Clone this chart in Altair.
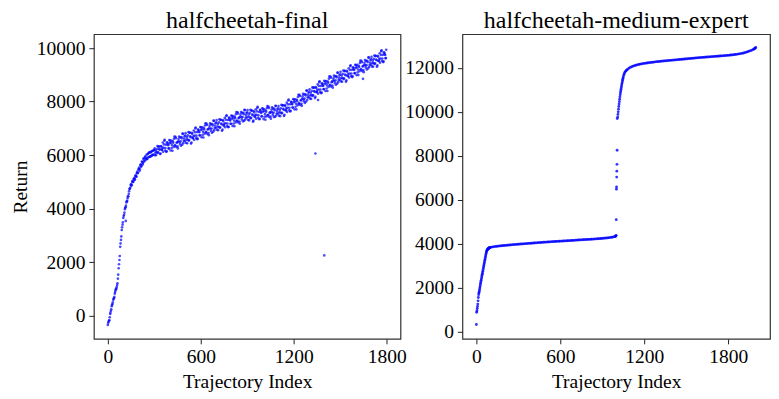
import altair as alt
import pandas as pd

final_step = 5
final_returns_a = [
    -350, -230, -170, 60, 180, 350, 430, 590, 660, 820,
    950, 1010, 1140, 1380, 1770, 2080, 2570, 2830, 3200, 3400,
    3650, 3770, 3980, 4050, 4230, 4280, 4460, 4550, 4730, 4790,
    4920, 4880, 5040, 5010, 5130, 5090, 5250, 5200, 5380, 5340,
    5490, 5410, 5620, 5560, 5760, 5650, 5850, 5760, 5920, 5830,
    6010, 5850, 6060, 5930, 6110, 5950, 6130, 5990, 6160, 6020,
    6200, 5990, 6170, 6105, 6335, 6100, 6325, 6205, 6055, 6325,
    6190, 6470, 6270, 6540, 6170, 6390, 6140, 6460, 6370, 6250,
    6440, 6170, 6540, 6370, 6510, 6300, 6690, 6370, 6630, 6460,
    6330, 6520, 6690, 6415, 6510, 6675, 6390, 6795, 6530, 6700,
    6730, 6460, 6670, 6575, 6860, 6560, 6830, 6670, 6470, 6795,
    6635, 6920, 6725, 7000, 6635, 6860, 6615, 6940, 6855, 6740,
    6935, 6665, 7035, 6865, 7005, 6795, 7185, 6865, 7125, 6955,
    6825, 7015, 7185, 6905, 6995, 7160, 6875, 7280, 7015, 7190,
    7220, 6950, 7160, 7060, 7340, 7040, 7310, 7150, 6950, 7270,
    7110, 7390, 7190, 7460, 7090, 7310, 7060, 7380, 7290, 7170,
    7360, 7090, 7460, 7290, 7430, 7220, 7610, 7290, 7550, 7380,
    7250, 7440, 7610, 7330, 7420, 7580, 7285, 7680, 7405, 7570,
    7595, 7320, 7525, 7420, 7695, 7390, 7655, 7490, 7285, 7600,
    7435, 7710, 7505, 7770, 7395, 7610, 7355, 7670, 7570, 7440,
    7625, 7345, 7710, 7530, 7665, 7445, 7830, 7500, 7755, 7575,
    7440, 7620, 7785, 7495, 7580, 7730, 7435, 7830, 7555, 7720,
    7745, 7475, 7685, 7590, 7875, 7580, 7855, 7700, 7505, 7830,
    7675, 7960, 7765, 8040, 7675, 7900, 7655, 7980, 7895, 7780,
    7975, 7710, 8085, 7920, 8065, 7860, 8255, 7940, 8205, 8040,
    7920, 8115, 8290, 8015, 8110, 8280, 8000, 8410, 8150, 8330,
    8370, 8110, 8330, 8240, 8530, 8240, 8520, 8370, 8180, 8510,
    8360, 8645, 8450, 8725, 8360, 8585, 8340, 8665, 8580, 8465,
    8660, 8395, 8770, 8605, 8750, 8545, 8940, 8625, 8890, 8725,
    8600, 8795, 8970, 8695, 8790, 8955, 8670, 9075, 8810, 8985,
    9020, 8755, 8970, 8875, 9160, 8865, 9140, 8985, 8790, 9115,
    8960, 9245, 9050, 9325, 8960, 9185, 8940, 9265, 9180, 9065,
    9260, 8990, 9370, 9200, 9340, 9135, 9530, 9210, 9470, 9310,
    9180, 9370, 9550, 9270, 9360, 9525, 9240, 9640, 9370, 9550,
    9580, 9315, 9530, 9435, 9720, 9425, 9700, 9545, 9350, 9675,
    9520, 9805, 9610, 9885, 9520, 9745, 9500, 9825, 9740, 9625,
]
# second set of readings at trajectory indices 2,7,12,...
final_returns_b = [
    -280, -190, -60, 110, 240, 400, 500, 630, 700, 880,
    990, 1070, 1210, 1530, 1920, 2230, 2700, 2960, 3300, 3490,
    3720, 3850, 4030, 4110, 4270, 4380, 4450, 4650, 4740, 4880,
    4860, 5000, 4990, 5110, 5080, 5210, 5190, 5330, 5320, 5460,
    5530, 5470, 5650, 5600, 5740, 5700, 5880, 5790, 5950, 5870,
    5870, 6040, 5920, 6090, 5940, 6100, 5970, 6150, 6010, 6180,
    6250, 6090, 6005, 6225, 6090, 6310, 6220, 6040, 6330, 6205,
    6260, 6120, 6400, 6570, 6260, 6120, 6480, 6400, 6250, 6560,
    6540, 6460, 6260, 6160, 6460, 6610, 6350, 6680, 6300, 6480,
    6250, 6600, 6490, 6665, 6350, 6625, 6800, 6445, 6620, 6530,
    6820, 6580, 6440, 6735, 6540, 6840, 6700, 6430, 6830, 6635,
    6705, 6570, 6855, 7030, 6725, 6590, 6955, 6880, 6735, 7050,
    7035, 6955, 6755, 6655, 6955, 7105, 6845, 7175, 6795, 6975,
    6745, 7095, 6985, 7155, 6835, 7110, 7285, 6930, 7105, 7020,
    7310, 7070, 6930, 7220, 7020, 7320, 7180, 6910, 7310, 7110,
    7180, 7040, 7320, 7490, 7180, 7040, 7400, 7320, 7170, 7480,
    7460, 7380, 7180, 7080, 7380, 7530, 7270, 7600, 7220, 7400,
    7170, 7520, 7410, 7580, 7260, 7530, 7695, 7330, 7495, 7400,
    7685, 7440, 7295, 7580, 7375, 7670, 7525, 7250, 7645, 7440,
    7505, 7360, 7635, 7800, 7485, 7340, 7695, 7610, 7450, 7750,
    7725, 7635, 7430, 7320, 7615, 7755, 7490, 7810, 7425, 7595,
    7360, 7700, 7585, 7745, 7420, 7680, 7845, 7480, 7645, 7550,
    7835, 7595, 7455, 7750, 7555, 7860, 7725, 7460, 7865, 7670,
    7745, 7610, 7895, 8070, 7765, 7630, 7995, 7920, 7775, 8090,
    8075, 8000, 7805, 7710, 8015, 8170, 7915, 8250, 7875, 8060,
    7840, 8195, 8090, 8265, 7950, 8230, 8410, 8060, 8240, 8160,
    8460, 8230, 8100, 8400, 8210, 8520, 8390, 8130, 8540, 8350,
    8430, 8295, 8580, 8755, 8450, 8315, 8680, 8605, 8460, 8775,
    8760, 8685, 8490, 8395, 8700, 8855, 8600, 8935, 8560, 8745,
    8520, 8875, 8770, 8945, 8630, 8905, 9080, 8725, 8900, 8815,
    9110, 8875, 8740, 9035, 8840, 9145, 9010, 8745, 9150, 8955,
    9030, 8895, 9180, 9355, 9050, 8915, 9280, 9205, 9060, 9375,
    9360, 9280, 9090, 8990, 9290, 9445, 9190, 9520, 9140, 9330,
    9100, 9450, 9350, 9520, 9200, 9475, 9650, 9290, 9460, 9380,
    9670, 9435, 9300, 9595, 9400, 9705, 9570, 9305, 9710, 9515,
    9590, 9455, 9740, 9915, 9610, 9475, 9840, 9765, 9620, 9935,
]
final_outlier_index = [116, 1340, 1357, 1397, 1647]
final_outlier_return = [3540, 6060, 8060, 2250, 8850]

# ---- halfcheetah-medium-expert ----
me_index = (
    list(range(0, 101, 2))
    + list(range(110, 991, 10))
    + [994, 997, 999]
    + [1000, 1001, 1002, 1003, 1004, 1005, 1006, 1007]
    + list(range(1010, 1051, 2))
    + [1053, 1056, 1060, 1065, 1070, 1075, 1080, 1090, 1100]
    + list(range(1110, 1991, 10))
    + [1985, 1994, 1997]
)
me_returns = (
    [320, 880, 950, 1050, 1150, 1250, 1400, 1550, 1680, 1760,
     1800, 1880, 1960, 2040, 2120, 2200, 2270, 2340, 2410, 2480,
     2550, 2610, 2680, 2750, 2820, 2890, 2960, 3030, 3100, 3170,
     3240, 3300, 3370, 3440, 3510, 3570, 3620, 3670, 3700, 3720,
     3740, 3755, 3770, 3780, 3790, 3800, 3808, 3815, 3822, 3828,
     3833]
    + [3845, 3855, 3865, 3875, 3883, 3890, 3897, 3904, 3910, 3916,
       3922, 3928, 3934, 3940, 3946, 3952, 3958, 3964, 3969, 3974,
       3979, 3984, 3989, 3994, 3999, 4004, 4009, 4014, 4019, 4024,
       4029, 4034, 4039, 4044, 4049, 4054, 4059, 4064, 4069, 4073,
       4077, 4081, 4085, 4089, 4093, 4097, 4101, 4105, 4109, 4113,
       4117, 4121, 4125, 4129, 4133, 4137, 4141, 4145, 4149, 4153,
       4157, 4161, 4165, 4169, 4173, 4177, 4181, 4185, 4189, 4193,
       4197, 4201, 4205, 4209, 4214, 4219, 4224, 4229, 4234, 4240,
       4246, 4252, 4259, 4266, 4274, 4283, 4293, 4305, 4320]
    + [4335, 4350, 4380]
    + [5090, 6480, 6580, 7030, 7300, 7610, 8250, 9690]
    + [9760, 9880, 10000, 10120, 10240, 10350, 10460, 10570, 10680, 10780,
       10870, 10950, 11030, 11110, 11190, 11260, 11330, 11400, 11460, 11520,
       11580]
    + [11660, 11720, 11780, 11830, 11870, 11900, 11930, 11980, 12020]
    + [12050, 12075, 12098, 12118, 12136, 12152, 12167, 12180, 12192, 12203,
       12213, 12222, 12231, 12240, 12248, 12256, 12264, 12272, 12279, 12286,
       12293, 12300, 12306, 12312, 12318, 12324, 12330, 12336, 12342, 12348,
       12354, 12360, 12366, 12372, 12378, 12384, 12390, 12396, 12402, 12408,
       12414, 12420, 12426, 12432, 12438, 12444, 12450, 12456, 12462, 12468,
       12473, 12478, 12483, 12488, 12493, 12498, 12503, 12508, 12513, 12518,
       12523, 12528, 12533, 12538, 12543, 12548, 12553, 12558, 12564, 12570,
       12576, 12583, 12590, 12598, 12606, 12615, 12625, 12636, 12648, 12662,
       12677, 12694, 12713, 12734, 12757, 12782, 12810, 12840, 12880]
    + [12860, 12900, 12930]
)

x_ticks = [0, 600, 1200, 1800]
final_y_ticks = [0, 2000, 4000, 6000, 8000, 10000]
me_y_ticks = [0, 2000, 4000, 6000, 8000, 10000, 12000]

n = len(final_returns_a)
final_df = pd.DataFrame({
    "index": list(range(0, n * final_step, final_step))
    + list(range(2, n * final_step + 2, final_step))
    + final_outlier_index,
    "ret": final_returns_a + final_returns_b + final_outlier_return,
})
me_df = pd.DataFrame({"index": me_index, "ret": me_returns})

FONT = "Liberation Serif"

left = alt.Chart(final_df, title="halfcheetah-final").mark_circle(
    size=7, color="#0000ff", opacity=0.7
).encode(
    x=alt.X("index:Q", scale=alt.Scale(domain=[-90, 1889], nice=False, zero=False),
            axis=alt.Axis(values=x_ticks, title="Trajectory Index", format="d")),
    y=alt.Y("ret:Q", scale=alt.Scale(domain=[-867, 10517], nice=False, zero=False),
            axis=alt.Axis(values=final_y_ticks, title="Return", format="d")),
).properties(width=307, height=305)

right = alt.Chart(me_df, title="halfcheetah-medium-expert").mark_circle(
    size=8, color="#0000ff", opacity=0.8
).encode(
    x=alt.X("index:Q", scale=alt.Scale(domain=[-100, 2099], nice=False, zero=False),
            axis=alt.Axis(values=x_ticks, title="Trajectory Index", format="d")),
    y=alt.Y("ret:Q", scale=alt.Scale(domain=[-330, 13530], nice=False, zero=False),
            axis=alt.Axis(values=me_y_ticks, title=None, format="d")),
).properties(width=308, height=305)

chart = alt.hconcat(left, right, spacing=62, bounds="flush").resolve_scale(
    x="independent", y="independent"
).properties(
    padding={"left": 1, "top": 0, "right": 0, "bottom": 0}
).configure_view(
    stroke="#333333", strokeWidth=1.2
).configure_axis(
    domain=False, grid=False, ticks=True, tickColor="#222222", tickSize=5, tickWidth=1,
    labelFont=FONT, labelFontSize=19.5, labelColor="#000000", labelPadding=4,
    labelFlush=False, labelOverlap=False,
    titleFont=FONT, titleFontSize=19.5, titleFontWeight="normal", titleColor="#000000",
    titlePadding=6,
).configure_axisX(
    titlePadding=6
).configure_title(
    font=FONT, fontSize=24, fontWeight="normal", color="#000000", offset=1, anchor="middle"
)

chart.save("out.html", embed_options={"renderer": "svg", "actions": False})
